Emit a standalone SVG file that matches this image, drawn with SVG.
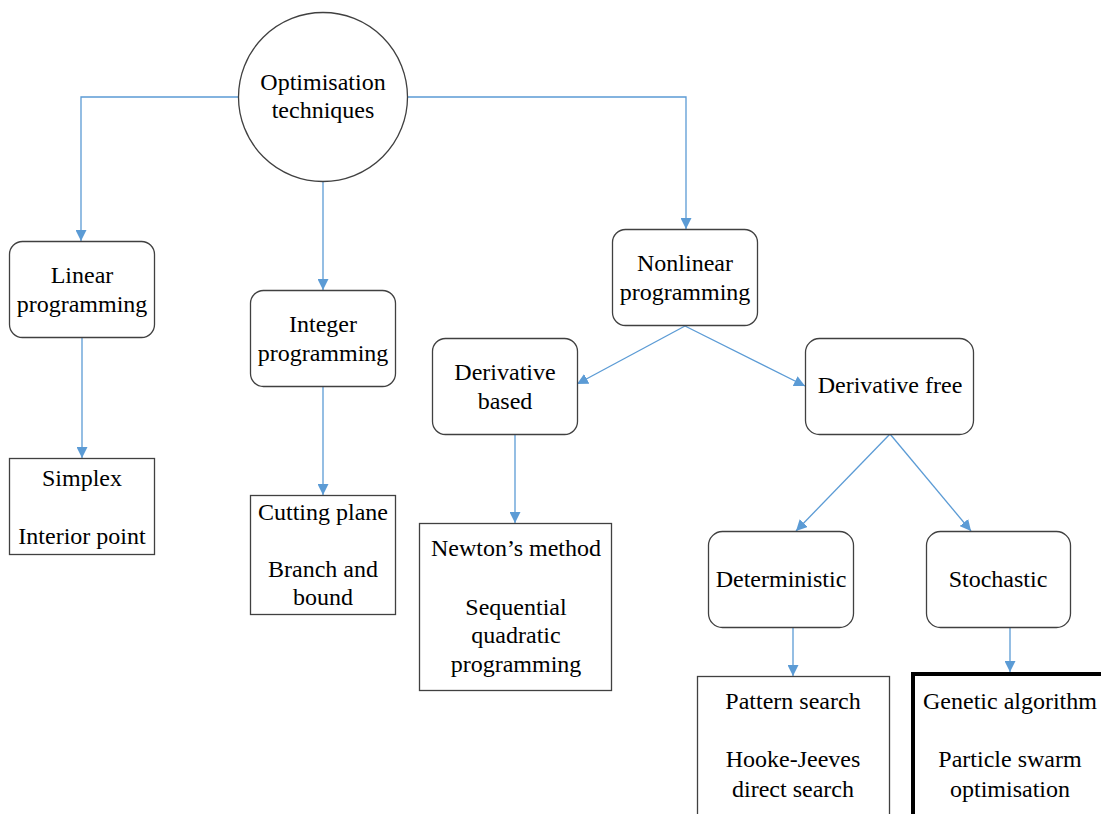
<svg xmlns="http://www.w3.org/2000/svg" width="1101" height="814" viewBox="0 0 1101 814">
  <defs>
    <marker id="arrow" viewBox="0 0 10 10" refX="10" refY="5" markerWidth="11" markerHeight="11" markerUnits="userSpaceOnUse" orient="auto">
      <path d="M0,0 L10,5 L0,10 z" fill="#5B9BD5"/>
    </marker>
  </defs>
  <style>
    .rr { fill: #ffffff; stroke: #404040; stroke-width: 1.3; }
    .bx { fill: #ffffff; stroke: #404040; stroke-width: 1.3; }
    .thick { fill: #ffffff; stroke: #000000; stroke-width: 4; }
    text { font-family: 'Liberation Serif', 'Times New Roman', serif; font-size: 24px; fill: #000000; text-anchor: middle; }
    .con { fill: none; stroke: #5B9BD5; stroke-width: 1.3; }
  </style>
  <rect width="1101" height="814" fill="#ffffff"/>

  <!-- connectors -->
  <g id="connectors">
    <path class="con" d="M238,97 H81 V241" marker-end="url(#arrow)"/>
    <path class="con" d="M407,97 H686 V229" marker-end="url(#arrow)"/>
    <path class="con" d="M323,181 V290" marker-end="url(#arrow)"/>
    <path class="con" d="M82,338 V458" marker-end="url(#arrow)"/>
    <path class="con" d="M323,386 V495" marker-end="url(#arrow)"/>
    <path class="con" d="M685,326 L577,384" marker-end="url(#arrow)"/>
    <path class="con" d="M685,326 L805,386" marker-end="url(#arrow)"/>
    <path class="con" d="M515,434 V523" marker-end="url(#arrow)"/>
    <path class="con" d="M890,434 L796,531" marker-end="url(#arrow)"/>
    <path class="con" d="M890,434 L971,531" marker-end="url(#arrow)"/>
    <path class="con" d="M793,627 V676" marker-end="url(#arrow)"/>
    <path class="con" d="M1010,627 V672" marker-end="url(#arrow)"/>
  </g>

  <g id="optimisation">
    <circle cx="323" cy="97" r="84.5" fill="#ffffff" stroke="#404040" stroke-width="1.3"/>
    <text x="323" y="90">Optimisation</text>
    <text x="323" y="118">techniques</text>
  </g>

  <g id="linear">
    <rect class="rr" x="9.5" y="241.5" width="145" height="96" rx="13"/>
    <text x="82" y="283">Linear</text>
    <text x="82" y="312">programming</text>
  </g>

  <g id="linear-methods">
    <rect class="bx" x="9.5" y="458.5" width="145" height="96"/>
    <text x="82" y="486">Simplex</text>
    <text x="82" y="544">Interior point</text>
  </g>

  <g id="integer">
    <rect class="rr" x="250.5" y="290.5" width="145" height="96" rx="13"/>
    <text x="323" y="332">Integer</text>
    <text x="323" y="361">programming</text>
  </g>

  <g id="integer-methods">
    <rect class="bx" x="250.5" y="495.5" width="145" height="119"/>
    <text x="323" y="520">Cutting plane</text>
    <text x="323" y="577">Branch and</text>
    <text x="323" y="605">bound</text>
  </g>

  <g id="nonlinear">
    <rect class="rr" x="612.5" y="229.5" width="145" height="96" rx="13"/>
    <text x="685" y="271">Nonlinear</text>
    <text x="685" y="300">programming</text>
  </g>

  <g id="derivative-based">
    <rect class="rr" x="432.5" y="338.5" width="145" height="96" rx="13"/>
    <text x="505" y="380">Derivative</text>
    <text x="505" y="409">based</text>
  </g>

  <g id="derivative-free">
    <rect class="rr" x="805.5" y="338.5" width="168" height="96" rx="14"/>
    <text x="890" y="393">Derivative free</text>
  </g>

  <g id="derivative-based-methods">
    <rect class="bx" x="419.5" y="523.5" width="192" height="167"/>
    <text x="516" y="556">Newton’s method</text>
    <text x="516" y="615">Sequential</text>
    <text x="516" y="643">quadratic</text>
    <text x="516" y="672">programming</text>
  </g>

  <g id="deterministic">
    <rect class="rr" x="708.5" y="531.5" width="145" height="96" rx="14"/>
    <text x="781" y="587">Deterministic</text>
  </g>

  <g id="stochastic">
    <rect class="rr" x="926.5" y="531.5" width="144" height="96" rx="14"/>
    <text x="998" y="587">Stochastic</text>
  </g>

  <g id="deterministic-methods">
    <rect class="bx" x="697.5" y="676.5" width="192" height="160"/>
    <text x="793" y="709">Pattern search</text>
    <text x="793" y="767">Hooke-Jeeves</text>
    <text x="793" y="797">direct search</text>
  </g>

  <g id="stochastic-methods">
    <rect class="thick" x="913" y="674" width="200" height="160"/>
    <text x="1010" y="709">Genetic algorithm</text>
    <text x="1010" y="767">Particle swarm</text>
    <text x="1010" y="797">optimisation</text>
  </g>
</svg>
